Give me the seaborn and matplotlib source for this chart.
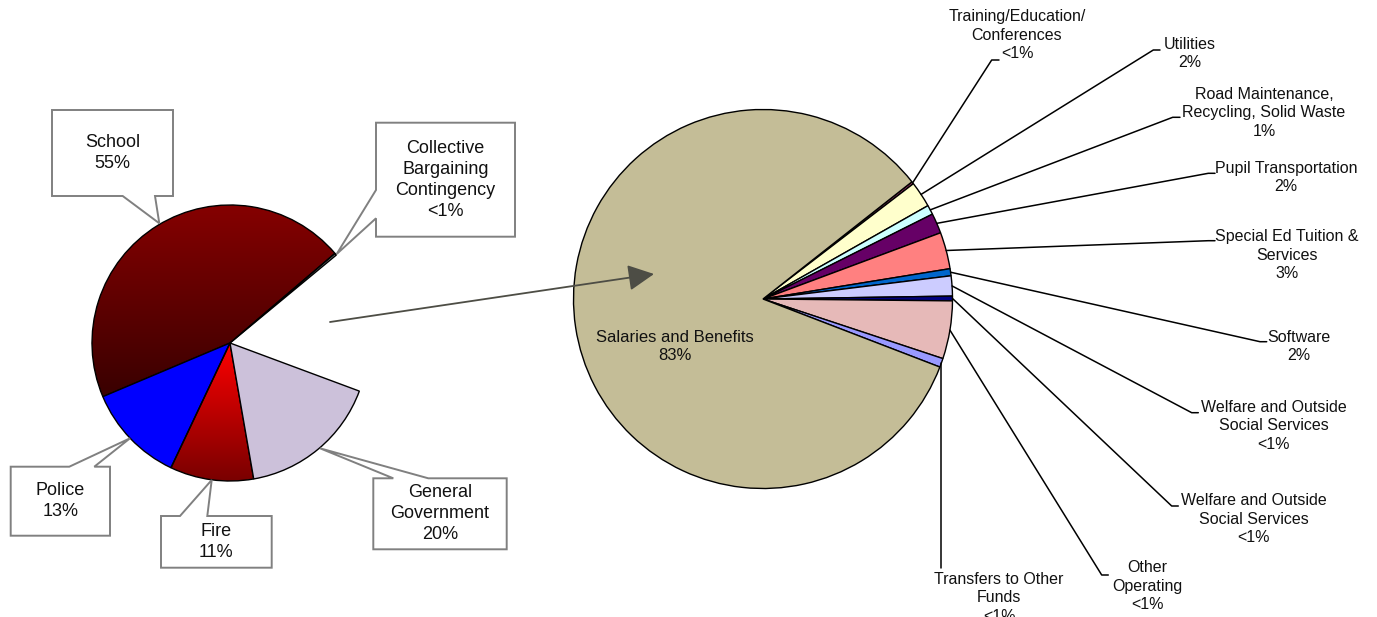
import numpy as np
import matplotlib
matplotlib.use("Agg")
import matplotlib.pyplot as plt
from matplotlib.patches import Polygon
from matplotlib.colors import LinearSegmentedColormap
import seaborn as sns

# ---------------- data ----------------
left_categories = ["Collective Bargaining Contingency", "School", "Police", "Fire", "General Government"]
left_values = [0.3, 54.4, 14.0, 11.8, 20.0]
left_texts = ["Collective\nBargaining\nContingency\n<1%", "School\n55%", "Police\n13%",
              "Fire\n11%", "General\nGovernment\n20%"]

right_categories = ["Training/Education/Conferences", "Utilities",
                    "Road Maintenance, Recycling, Solid Waste", "Pupil Transportation",
                    "Special Ed Tuition & Services", "Software",
                    "Welfare and Outside Social Services", "Welfare and Outside Social Services",
                    "Other Operating", "Transfers to Other Funds", "Salaries and Benefits"]
right_values = [0.2, 2.2, 0.8, 1.7, 3.1, 0.6, 1.7, 0.4, 4.9, 0.75, 83.0]
right_names = ["Training/Education/\nConferences", "Utilities",
               "Road Maintenance,\nRecycling, Solid Waste", "Pupil Transportation",
               "Special Ed Tuition &\nServices", "Software",
               "Welfare and Outside\nSocial Services", "Welfare and Outside\nSocial Services",
               "Other\nOperating", "Transfers to Other\nFunds", "Salaries and Benefits"]
right_pct = ["<1%", "2%", "1%", "2%", "3%", "2%", "<1%", "<1%", "<1%", "<1%", "83%"]

# ---------------- style ----------------
W, H = 1377, 617
sns.set_theme(style="white")
plt.rcParams["font.family"] = ["Liberation Sans", "DejaVu Sans"]

left_colors = ["#7F7F7F", "none", "#0000FF", "none", "#CCC1DA"]
right_colors = ["#993366", "#FFFFCC", "#CCFFFF", "#660066", "#FF8080", "#0066CC",
                "#CCCCFF", "#000080", "#E6B9B8", "#9999FF", "#C4BD97"]

fig = plt.figure(figsize=(W / 100, H / 100), dpi=100)
ax = fig.add_axes([0, 0, 1, 1])


def Y(y):  # convert pixel row to y-up data coordinate
    return H - y


# ---------------- left pie (with a 60 degree gap) ----------------
lcx, lcy, lr = 230, Y(343), 138
lvals = np.array(left_values, dtype=float)
lfrac = lvals / lvals.sum() * (300.0 / 360.0)
lw_, _ = ax.pie(lfrac, colors=left_colors, startangle=39.6, counterclock=True,
                normalize=False, center=(lcx, lcy), radius=lr,
                wedgeprops=dict(edgecolor="black", linewidth=1.0))

# gradient fills for School and Fire
def grad_fill(wedge, top_col, bot_col, ytop, ybot):
    cmap = LinearSegmentedColormap.from_list("g", [bot_col, top_col])
    g = np.linspace(0, 1, 256).reshape(-1, 1)
    im = ax.imshow(g, cmap=cmap, origin="lower", aspect="auto",
                   extent=[lcx - lr - 2, lcx + lr + 2, Y(ybot), Y(ytop)], zorder=0.5)
    im.set_clip_path(wedge)

grad_fill(lw_[1], "#850000", "#380000", 205, 400)
grad_fill(lw_[3], "#FF0000", "#780000", 343, 482)

# callout boxes (px coordinates)
callouts = {
    "School": dict(box=(52, 110, 173, 196), poly=[(52, 110), (173, 110), (173, 196), (155, 196),
                                                 (159.3, 223.3), (122.7, 196), (52, 196)]),
    "CB": dict(box=(376, 122.7, 515, 236.7), poly=[(376, 122.7), (515, 122.7), (515, 236.7), (376, 236.7),
                                                  (376, 218.3), (336.7, 254), (376, 190)]),
    "Police": dict(box=(10.7, 466.7, 110, 535.7), poly=[(10.7, 466.7), (69.3, 466.7), (130, 438.3),
                                                       (94.3, 466.7), (110, 466.7), (110, 535.7), (10.7, 535.7)]),
    "Fire": dict(box=(161, 516, 271.7, 567.7), poly=[(161, 516), (180, 516), (211.7, 480), (207.3, 516),
                                                    (271.7, 516), (271.7, 567.7), (161, 567.7)]),
    "GG": dict(box=(373.3, 478.3, 506.7, 549.3), poly=[(373.3, 478.3), (393.3, 478.3), (320, 448.3),
                                                      (428.3, 478.3), (506.7, 478.3), (506.7, 549.3), (373.3, 549.3)]),
}
keys = ["CB", "School", "Police", "Fire", "GG"]
for k, txt in zip(keys, left_texts):
    c = callouts[k]
    pts = [(x, Y(y)) for x, y in c["poly"]]
    ax.add_patch(Polygon(pts, closed=True, facecolor="white", edgecolor="#808080",
                         linewidth=1.4, zorder=3))
    x0, y0, x1, y1 = c["box"]
    ax.text((x0 + x1) / 2, Y((y0 + y1) / 2), txt, ha="center", va="center",
            fontsize=13, color="#111111", linespacing=1.3, zorder=4)

# ---------------- right pie ----------------
rcx, rcy, rr = 763, Y(299), 189.5
rw, _ = ax.pie(right_values, colors=right_colors, startangle=38.2, counterclock=False,
               center=(rcx, rcy), radius=rr,
               wedgeprops=dict(edgecolor="black", linewidth=1.0))

# label layout (px): elbow x, elbow y, end x, text center x, text center y
layout = [
    (991.7, 60, 999, 1017, 35),
    (1153.3, 50, 1160, 1190, 53.5),
    (1172.7, 117.3, 1180, 1264, 112.7),
    (1208.3, 173.3, 1215, 1286, 177.5),
    (1208.3, 240.7, 1215, 1287, 255),
    (1260, 341.7, 1266.7, 1299, 346.7),
    (1191.7, 412.7, 1198.3, 1274, 426),
    (1171.7, 506, 1178.3, 1254, 519),
    (1101.7, 575, 1108.3, 1147, 586),
    (None, 568.3, None, 999, 597.7),
]
for i, (ex, ey, endx, tx, ty) in enumerate(layout):
    w = rw[i]
    mid = np.deg2rad((w.theta1 + w.theta2) / 2)
    sx, sy = rcx + rr * np.cos(mid), rcy + rr * np.sin(mid)
    if ex is None:
        ax.plot([sx, sx], [sy, Y(ey)], color="black", lw=1.1, zorder=3)
    else:
        ax.plot([sx, ex, endx], [sy, Y(ey), Y(ey)], color="black", lw=1.1, zorder=3)
    ax.text(tx, Y(ty), right_names[i] + "\n" + right_pct[i], ha="center", va="center",
            fontsize=11.5, color="#111111", linespacing=1.3, zorder=4)

ax.text(674.5, Y(346.7), right_names[-1] + "\n" + right_pct[-1], ha="center", va="center",
        fontsize=12, color="#111111", linespacing=1.25, zorder=4)

# connecting arrow
ax.annotate("", xy=(654, Y(274)), xytext=(330, Y(322)),
            arrowprops=dict(arrowstyle="-|>,head_length=0.8,head_width=0.4", color="#4D4D45",
                            lw=1.3, mutation_scale=20, shrinkA=0, shrinkB=0), zorder=5)

ax.set_xlim(0, W)
ax.set_ylim(0, H)
ax.set_aspect("auto")
ax.axis("off")
fig.savefig("out.png", dpi=100, facecolor="white")
